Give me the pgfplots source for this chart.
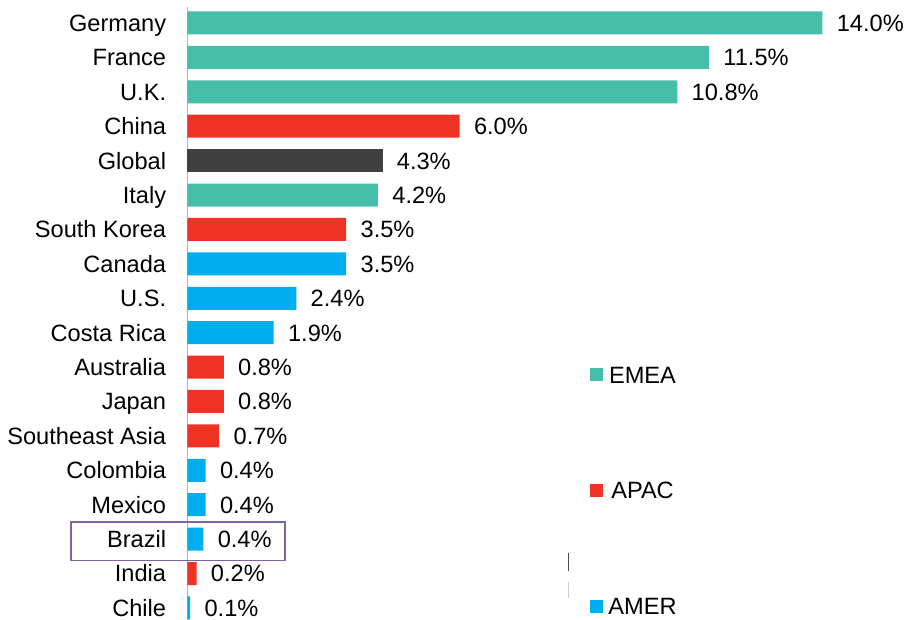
\documentclass[border=0pt]{standalone}
\usepackage{fontspec}
\setmainfont{Liberation Sans}
\usepackage{pgfplots}
\pgfplotsset{compat=1.18}
\definecolor{emea}{RGB}{69,191,170}
\definecolor{apac}{RGB}{238,50,36}
\definecolor{amer}{RGB}{0,174,239}
\definecolor{glob}{RGB}{64,64,64}
\definecolor{hl}{RGB}{128,100,162}
\begin{document}
\begin{tikzpicture}[font=\fontsize{11.8}{14.2}\selectfont]
\begin{axis}[
 scale only axis, width=351.5pt, height=306.25pt,
 xmin=0, xmax=15.5, ymin=-0.45, ymax=17.35, y dir=reverse,
 axis x line=none, axis y line*=left,
 axis line style={-, draw=black!30, line width=0.6pt},
 ytick={0,...,17},
 yticklabels={Germany,France,U.K.,China,Global,Italy,South Korea,Canada,U.S.,Costa Rica,Australia,Japan,Southeast Asia,Colombia,Mexico,Brazil,India,Chile},
 major tick length=0pt,
 yticklabel style={anchor=base east, inner sep=0pt, xshift=-10.5pt, yshift=-4.2pt},
 xbar, bar width=11.5pt, bar shift=0pt,
 point meta=explicit symbolic,
 nodes near coords,
 nodes near coords style={anchor=base west, inner sep=0pt, xshift=7pt, yshift=-4.2pt, text=black},
 clip=false,
 legend style={draw=none, fill=none, at={(0.5726,0.415)}, anchor=north west, inner sep=0pt,
   row sep=49.5pt, nodes={inner sep=0pt, text height=8.4pt, text depth=0pt}},
 legend image code/.code={\fill[#1,draw=none] (0pt,-3.25pt) rectangle (6.5pt,3.25pt); \path (0pt,0pt) -- (9pt,0pt);},
]
\addplot[fill=emea, draw=none] coordinates {(14.0,0) [14.0\%] (11.5,1) [11.5\%] (10.8,2) [10.8\%] (4.2,5) [4.2\%]};
\addlegendentry{EMEA}
\addplot[fill=apac, draw=none] coordinates {(6.0,3) [6.0\%] (3.5,6) [3.5\%] (0.8,10) [0.8\%] (0.8,11) [0.8\%] (0.7,12) [0.7\%] (0.2,16) [0.2\%]};
\addlegendentry{APAC}
\addplot[fill=amer, draw=none] coordinates {(3.5,7) [3.5\%] (2.4,8) [2.4\%] (1.9,9) [1.9\%] (0.4,13) [0.4\%] (0.4,14) [0.4\%] (0.35,15) [0.4\%] (0.06,17) [0.1\%]};
\addlegendentry{AMER}
\addplot[fill=glob, draw=none, forget plot] coordinates {(4.3,4) [4.3\%]};
\draw[hl, line width=0.6pt] (axis cs:-2.568,14.5) rectangle (axis cs:2.149,15.625);
\draw[black!70, line width=0.5pt] (axis cs:8.41,15.40) -- (axis cs:8.41,15.93);
\draw[black!20, line width=0.5pt] (axis cs:8.41,16.25) -- (axis cs:8.41,16.71);
\end{axis}
\pgfresetboundingbox
\path[use as bounding box] (-93.75pt,0pt) rectangle (359.75pt,310pt);
\end{tikzpicture}
\end{document}
